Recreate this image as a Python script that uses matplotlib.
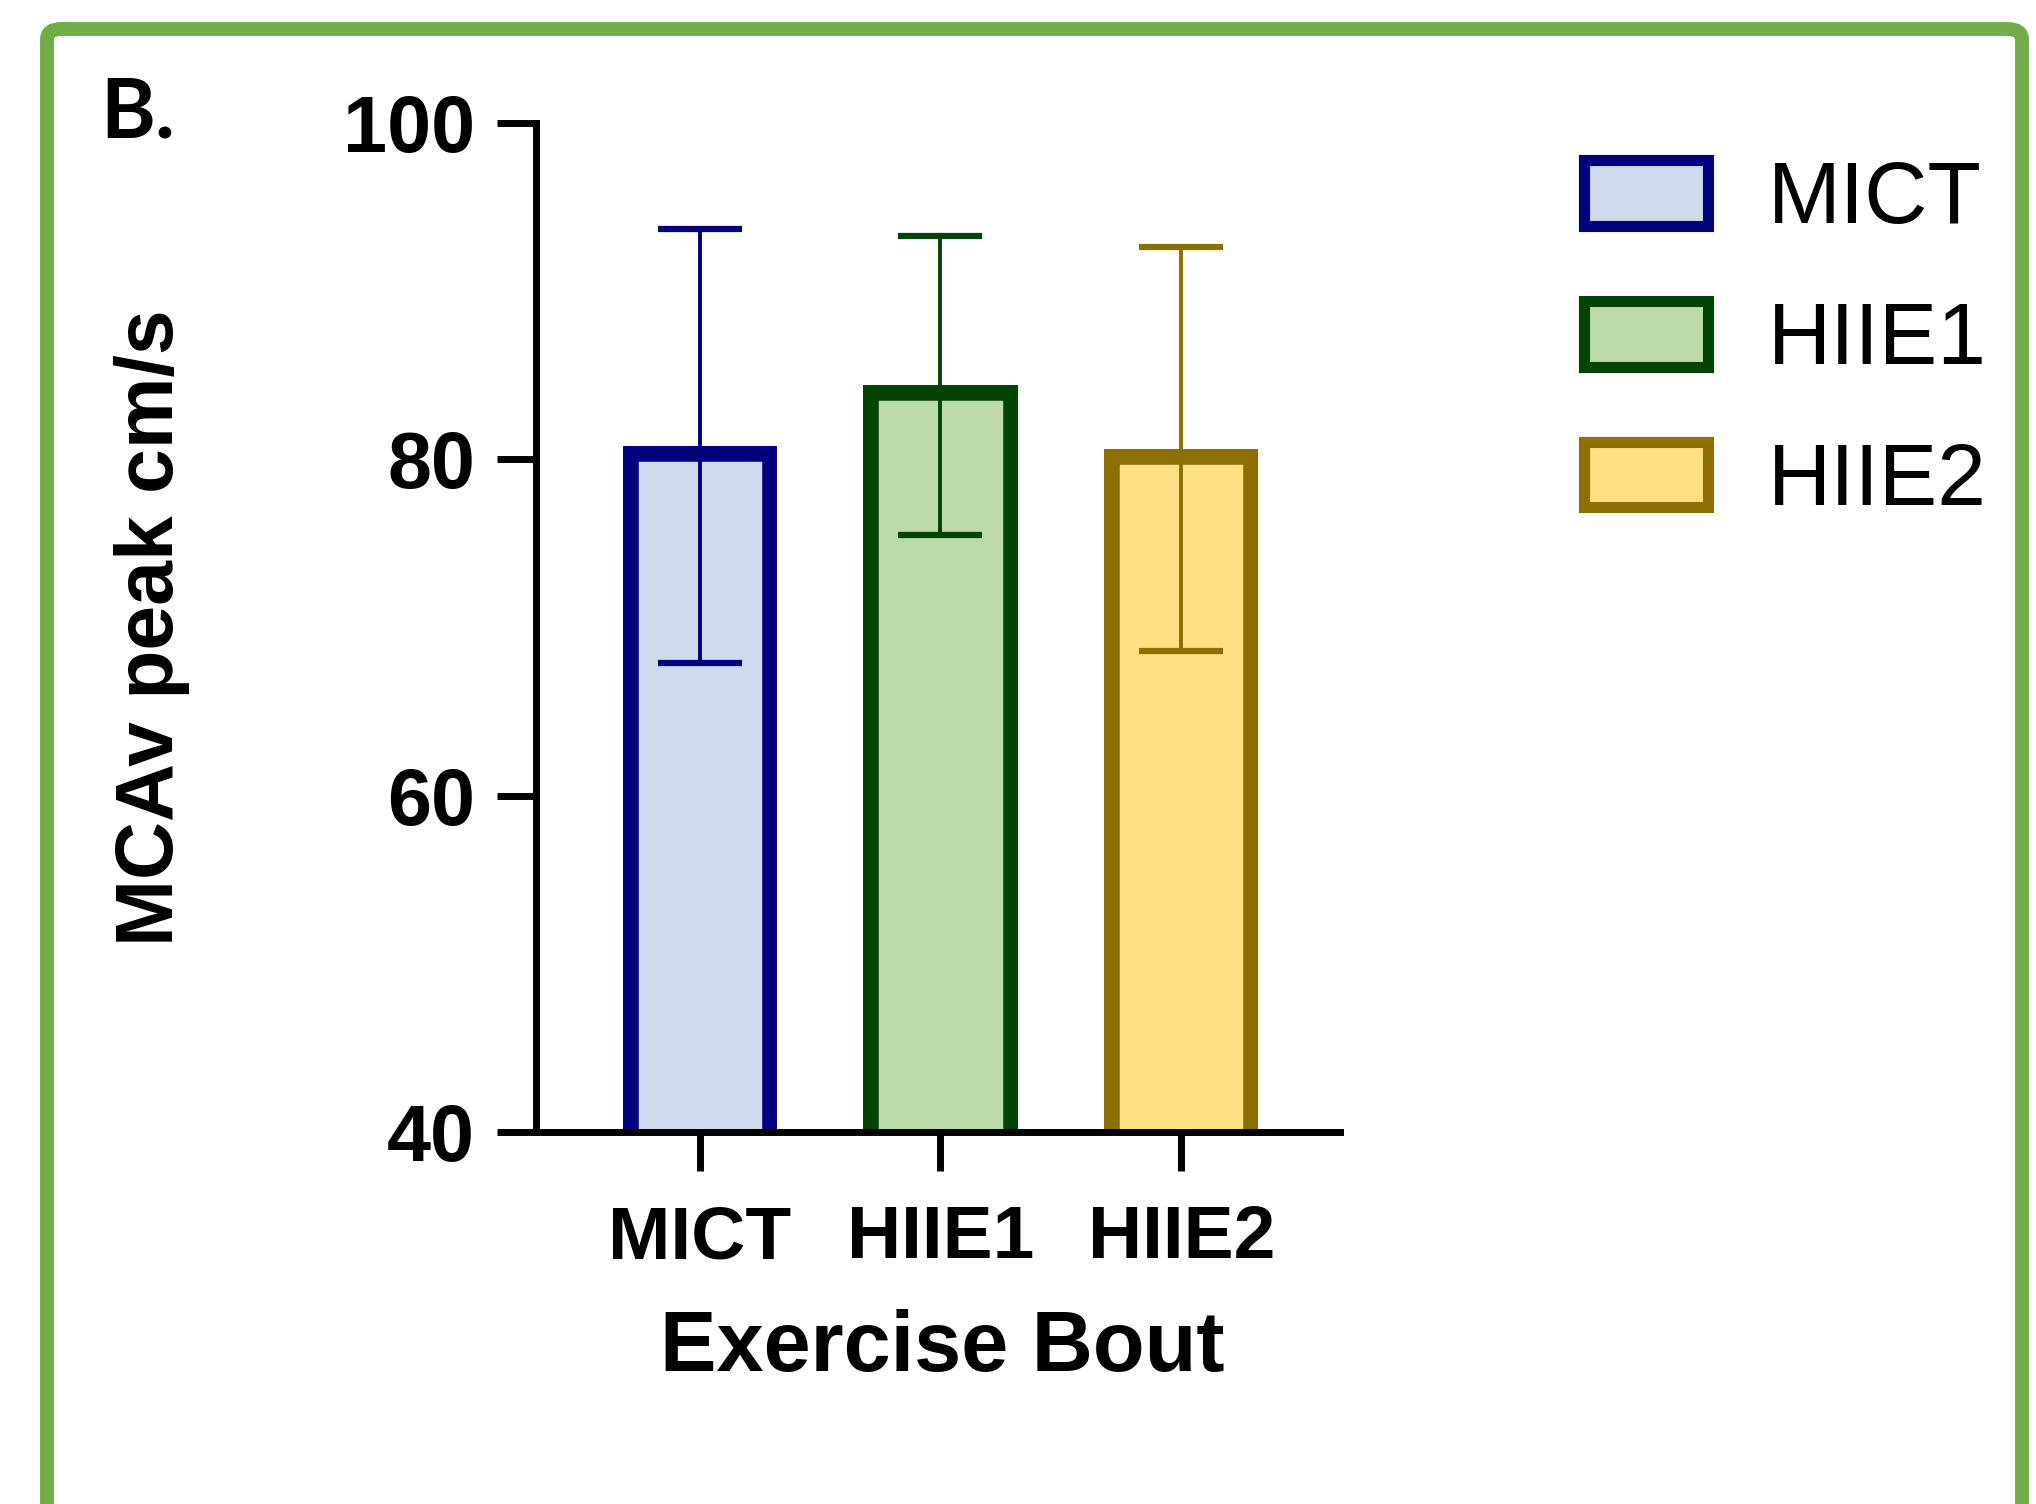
import matplotlib

matplotlib.use("Agg")
import matplotlib.pyplot as plt
import numpy as np
from matplotlib.patches import FancyBboxPatch, Patch

plt.rcParams["font.family"] = ["Liberation Sans", "DejaVu Sans"]

# peak MCAv per exercise bout (mean, SD)
bouts = ["MICT", "HIIE1", "HIIE2"]
means = np.array([80.8, 84.4, 80.6])
sds = np.array([12.9, 8.9, 12.0])
y_ticks = [40, 60, 80, 100]

edge_colors = ["#02027e", "#034405", "#8c6e02"]
fill_colors = ["#cfdaee", "#bddba8", "#ffe083"]

fig = plt.figure(figsize=(20.36, 15.04), dpi=100)
ax = fig.add_axes([0.2633, 0.2473, 0.3949, 0.6709])

x = np.arange(len(bouts))
bars = ax.bar(x, means, width=0.64, color=fill_colors, edgecolor=edge_colors,
              linewidth=22, zorder=2)
# clip each outline to its own bar so the stroke sits inside the bar;
# the axes clip box still hides everything below the y limit
for b in bars:
    b.set_clip_path(b.get_path(), b.get_transform())

for xi, m, s, c in zip(x, means, sds, edge_colors):
    ax.errorbar(xi, m, yerr=s, fmt="none", ecolor=c, elinewidth=2.8,
                capsize=30, capthick=4.5, zorder=3)

ax.set_xlim(-0.68, 2.66)
ax.set_ylim(40, 100)
ax.set_yticks(y_ticks)
ax.set_xticks(x)
ax.set_xticklabels(bouts)

for side in ["top", "right"]:
    ax.spines[side].set_visible(False)
for side in ["left", "bottom"]:
    ax.spines[side].set_linewidth(5)
    ax.spines[side].set_zorder(4)

ax.tick_params(axis="both", direction="out", length=28, width=5)
ax.tick_params(axis="y", pad=16, labelsize=57)
ax.tick_params(axis="x", pad=24, labelsize=54)
for lbl in ax.get_xticklabels() + ax.get_yticklabels():
    lbl.set_fontweight("bold")

ax.set_ylabel("MCAv peak cm/s", fontsize=58, fontweight="bold")
ax.yaxis.set_label_coords(-0.43, 0.5)
ax.set_xlabel("Exercise Bout", fontsize=61, fontweight="bold")
ax.xaxis.set_label_coords(0.505, -0.175)

handles = [Patch(facecolor=f, edgecolor=e, linewidth=8)
           for f, e in zip(fill_colors, edge_colors)]
fig.legend(handles, bouts, loc="upper left",
           bbox_to_anchor=(1584 / 2036, 1 - 160 / 1504),
           bbox_transform=fig.transFigure, frameon=False, fontsize=63,
           handlelength=1.42, handleheight=0.78, handletextpad=0.68,
           labelspacing=0.68, borderpad=0, borderaxespad=0)

fig.text(100 / 2036, 1 - 138 / 1504, "B.", fontsize=60, fontweight="bold",
         family=["Lato", "DejaVu Sans"], ha="left", va="baseline")

# green panel frame, open at the bottom edge of the image
frame = FancyBboxPatch((47 / 2036, -0.05), (2022 - 47) / 2036, 1 - 29 / 1504 + 0.05,
                       boxstyle="round,pad=0,rounding_size=0.007",
                       transform=fig.transFigure, facecolor="none",
                       edgecolor="#70ad47", linewidth=10, clip_on=False)
fig.patches.append(frame)

fig.savefig("out.png", dpi=100, facecolor="white")
